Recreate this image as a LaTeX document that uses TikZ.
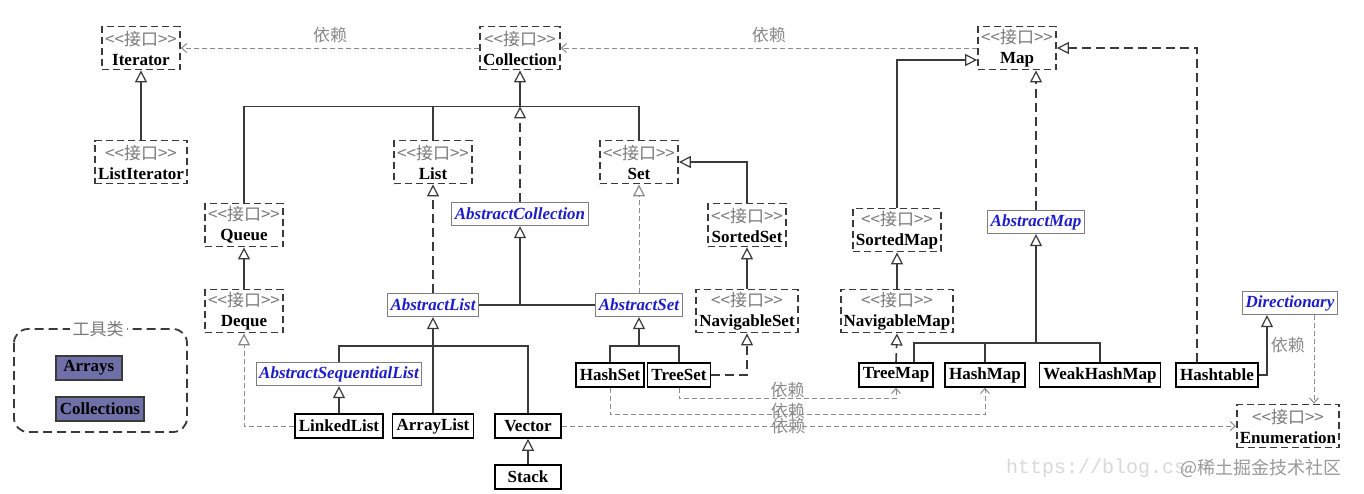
\documentclass[tikz,border=0pt]{standalone}
\usepackage{fontspec}
\setmainfont{Liberation Serif}
\setmonofont{Liberation Mono}
\newfontfamily\cjk{Noto Sans CJK SC}
\usetikzlibrary{arrows.meta}
\definecolor{edgegray}{HTML}{3A3A3A}
\definecolor{ifgray}{HTML}{7A7A7A}
\definecolor{depgray}{HTML}{8A8A8A}
\definecolor{absgray}{HTML}{7E7E7E}
\definecolor{absblue}{HTML}{1E1EC8}
\definecolor{toolfill}{HTML}{7070A8}
\newcommand\stereo{{\cjk\fontsize{17}{20}\selectfont\mdseries\color{ifgray}<{}<接口>{}>}}

\begin{document}
\begin{tikzpicture}[x=1pt, y=-1pt,
   every node/.style={font=\fontsize{17}{20}\selectfont\bfseries, inner xsep=3pt},
   iface/.style={draw=edgegray, line width=1.8pt, dash pattern=on 7pt off 4pt,
                 align=center, minimum width=78pt, minimum height=43pt, inner ysep=2pt},
   absclass/.style={draw=absgray, line width=1.2pt, text=absblue,
                 font=\fontsize{17}{20}\selectfont\bfseries\itshape, minimum height=23pt, inner ysep=2pt},
   cls/.style={draw=black, line width=1.6pt, minimum height=24pt, inner ysep=2pt, inner xsep=4pt},
   tool/.style={cls, fill=toolfill, draw=edgegray, anchor=west},
   deplabel/.style={font=\cjk\fontsize{17}{20}\selectfont, text=depgray},
   solidline/.style={draw=edgegray, line width=1.6pt},
   inherit/.style={solidline, -{Triangle[length=12pt, width=12pt, fill=white, line width=1.2pt]}},
   realize/.style={inherit, dash pattern=on 9pt off 5pt},
   realizelight/.style={draw=depgray, line width=1pt, dash pattern=on 5pt off 3pt,
                 -{Triangle[length=12pt, width=12pt, fill=white, line width=1.2pt]}},
   depend/.style={draw=depgray, line width=1pt, dash pattern=on 5pt off 3pt,
                 -{Straight Barb[length=5pt, width=9pt]}}]

\fill[white] (0,0) rectangle (1364,493);
\useasboundingbox (0,0) rectangle (1364,493);

% interfaces
\node[iface] (iter)  at (141,48)  {\stereo\\Iterator};
\node[iface] (coll)  at (520,48)  {\stereo\\Collection};
\node[iface] (map)   at (1017,48) {\stereo\\Map};
\node[iface] (liter) at (141,162) {\stereo\\ListIterator};
\node[iface] (list)  at (433,162) {\stereo\\List};
\node[iface] (set)   at (639,162) {\stereo\\Set};
\node[iface] (queue) at (244,225) {\stereo\\Queue};
\node[iface] (sset)  at (747,225) {\stereo\\SortedSet};
\node[iface] (smap)  at (897,230) {\stereo\\SortedMap};
\node[iface] (deque) at (244,311) {\stereo\\Deque};
\node[iface] (nset)  at (747,311) {\stereo\\NavigableSet};
\node[iface] (nmap)  at (897,311) {\stereo\\NavigableMap};
\node[iface] (enum)  at (1288,426) {\stereo\\Enumeration};

% abstract classes
\node[absclass] (acoll) at (520,214)  {AbstractCollection};
\node[absclass] (alist) at (433,305)  {AbstractList};
\node[absclass] (aset)  at (639,305)  {AbstractSet};
\node[absclass] (amap)  at (1036,222) {AbstractMap};
\node[absclass] (aseq)  at (339,374)  {AbstractSequentialList};
\node[absclass] (dict)  at (1290,303) {Directionary};

% classes
\node[cls] (hset)  at (610,375)  {HashSet};
\node[cls] (tset)  at (679,375)  {TreeSet};
\node[cls] (tmap)  at (896,375)  {TreeMap};
\node[cls] (hmap)  at (985,375)  {HashMap};
\node[cls] (whmap) at (1100,375) {WeakHashMap};
\node[cls] (htab)  at (1217,375) {Hashtable};
\node[cls] (llist) at (339,426)  {LinkedList};
\node[cls] (alst)  at (433,426)  {ArrayList};
\node[cls, minimum width=66pt] (vec)   at (528,426)  {Vector};
\node[cls, minimum width=66pt] (stack) at (528,477)  {Stack};

% tool classes
\draw[draw=edgegray, line width=1.8pt, dash pattern=on 9pt off 5pt, rounded corners=14pt]
   (14,329) rectangle (187,432);
\node[deplabel, fill=white, text=ifgray] (toollbl) at (98,329) {工具类};
\node[tool, minimum width=66pt] (arrays) at (55,368) {Arrays};
\node[tool] (colls)  at (55,409) {Collections};

% dependencies
\draw[depend] (coll.west) -- node[deplabel, above=1pt] {依赖} (iter.east);
\draw[depend] (map.west) -- node[deplabel, above=1pt] {依赖} (coll.east);
\draw[depend] (tset.south) -- ++(0,11) -| node[deplabel, pos=0.25, above=-3pt] {依赖} (tmap.south);
\draw[depend] (hset.south) -- ++(0,27) -| node[deplabel, pos=0.237, above=-8pt] {依赖} (hmap.south);
\draw[depend] (vec.east) -- node[deplabel, pos=0.336] {依赖} (enum.west);
\draw[depend] ([xshift=24pt]dict.south) -- ([xshift=24pt]dict.south |- enum.north);

% collection side
\path (coll.south) ++(0,36) coordinate (cbus);
\draw[solidline] (queue.north) |- (cbus) -| (set.north);
\draw[solidline] (list.north) -- (list.north |- cbus);
\draw[inherit] (cbus) -- (coll.south);
\draw[realize] (acoll.north) -- (cbus);
\draw[inherit] (liter) -- (iter);
\draw[realize] (alist.north) -- (list.south);
\draw[realizelight] (aset.north) -- (set.south);
\draw[solidline] (alist.east) -- (aset.west);
\draw[inherit] (acoll.south |- alist.east) -- (acoll.south);
\draw[inherit] (sset.north) |- (set.east);
\draw[inherit] (nset) -- (sset);
\draw[inherit] (deque) -- (queue);
\draw[realizelight] (llist.west) -| (deque.south);

\path (alist.south) ++(0,29) coordinate (lbus);
\draw[solidline] (aseq.north) |- (lbus) -| (vec.north);
\draw[inherit] (alst.north) -- (alist.south);
\draw[inherit] (llist) -- (aseq);
\draw[inherit] (stack) -- (vec);

\path (aset.south) ++(0,29) coordinate (sbus);
\draw[solidline] (hset.north) |- (sbus) -| (tset.north);
\draw[inherit] (sbus) -- (aset.south);
\draw[realize] (tset.east) -| (nset.south);

% map side
\draw[inherit] (smap.north) |- ([yshift=-12pt]map.west);
\draw[inherit] (nmap) -- (smap);
\draw[realize] (amap.north) -- (amap.north |- map.south);
\draw[realize] (tmap.north) -- (nmap.south);
\path (amap.south) ++(0,109) coordinate (mbus);
\draw[solidline] ([xshift=18pt]tmap.north) |- (mbus) -| (whmap.north);
\draw[solidline] (hmap.north) -- (hmap.north |- mbus);
\draw[inherit] (mbus) -- (amap.south);
\draw[realize] ([xshift=-20pt]htab.north) |- (map.east);
\draw[inherit] (htab.east) -| node[deplabel, pos=0.75, right] {依赖} ([xshift=-23pt]dict.south);

% watermark
\node[font=\ttfamily\fontsize{20}{22}\selectfont, text=black!15, anchor=west] (wmurl) at (1003,468) {https://blog.cs};
\node[font=\cjk\fontsize{18}{20}\selectfont, text=black!40, anchor=east] (wmsite) at (1345,468) {@稀土掘金技术社区};
\end{tikzpicture}
\end{document}
